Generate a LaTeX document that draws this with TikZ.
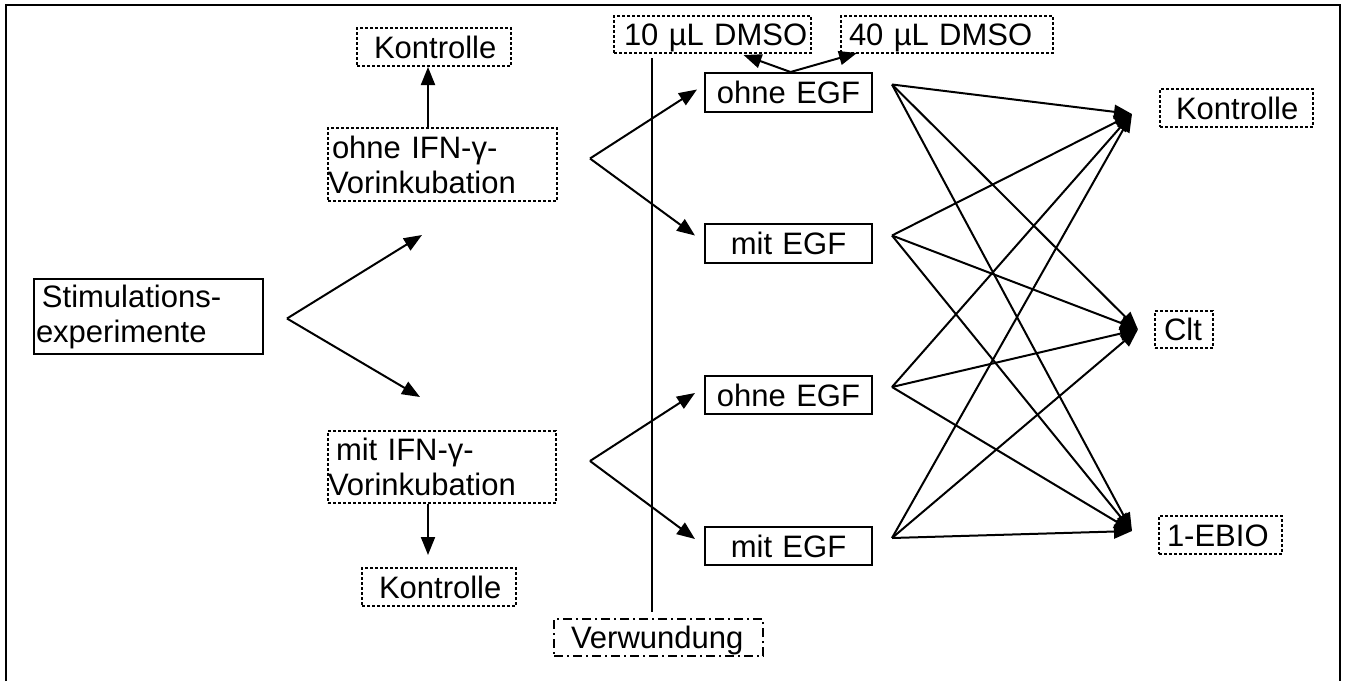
\documentclass[tikz,border=0pt]{standalone}
\usepackage{fontspec}
\setmainfont{Liberation Sans}
\usetikzlibrary{arrows.meta}
\begin{document}
\begin{tikzpicture}[x=1pt,y=-1pt,
  base/.style={inner sep=0pt, anchor=north west, font=\fontsize{31}{35}\selectfont, line width=2pt},
  solidbox/.style={base, draw},
  dotbox/.style={base, draw, dash pattern=on 3pt off 2pt},
  dashdotbox/.style={base, draw, dash pattern=on 9pt off 4pt on 2pt off 4pt},
  one/.style={text height=22pt, text depth=0pt},
  arr/.style={line width=2pt, -{Triangle[length=18pt,width=14pt]}},
  ln/.style={line width=2pt},
]
\useasboundingbox (0,0) rectangle (1345,681);
\draw[line width=2.8pt] (6,681) -- (6,5) -- (1340,5) -- (1340,681);

% nodes
\node[solidbox, text width=229pt, minimum height=75pt, align=left] (stim) at (33,278) {\hspace*{8pt}Stimulations-\\\hspace*{2pt}experimente};
\node[dotbox, one, text width=154pt, minimum height=38pt, align=left] (k1) at (356,27) {\hspace*{17pt}Kontrolle};
\node[dotbox, text width=229pt, minimum height=73pt, align=left] (oIFN) at (327,127) {\hspace*{4pt}ohne IFN-γ-\\Vorinkubation};
\node[dotbox, text width=228pt, minimum height=72pt, align=left] (mIFN) at (327,430) {\hspace*{8pt}mit IFN-γ-\\Vorinkubation};
\node[dotbox, one, text width=154pt, minimum height=38pt, align=left] (k2) at (361,567) {\hspace*{17pt}Kontrolle};

\node[solidbox, one, text width=167pt, minimum height=39pt, align=center] (oEGF1) at (704,72) {ohne EGF};
\node[solidbox, one, text width=167pt, minimum height=39pt, align=center] (mEGF1) at (704,223) {mit EGF};
\node[solidbox, one, text width=167pt, minimum height=38pt, align=center] (oEGF2) at (704,375) {ohne EGF};
\node[solidbox, one, text width=167pt, minimum height=38pt, align=center] (mEGF2) at (704,526) {mit EGF};

\node[dotbox, one, text width=197pt, minimum height=37pt, align=left] (d10) at (613,15) {\hspace*{10pt}10 µL DMSO};
\node[dotbox, one, text width=212pt, minimum height=37pt, align=left] (d40) at (840,15) {\hspace*{8pt}40 µL DMSO};

\node[dotbox, one, text width=153pt, minimum height=38pt, align=left] (k3) at (1159,88) {\hspace*{16pt}Kontrolle};
\node[dotbox, one, text width=58pt, minimum height=37pt, align=left] (clt) at (1154,310) {\hspace*{9pt}Clt};
\node[dotbox, one, text width=123pt, minimum height=38pt, align=left] (ebio) at (1158,515) {\hspace*{8pt}1-EBIO};
\node[dashdotbox, one, text width=209pt, minimum height=37pt, align=left] (verw) at (553,618) {\hspace*{17pt}Verwundung};

% coordinates
\coordinate (f0) at ([shift={(23,2)}]stim.east);
\coordinate (a1) at (422,235);
\coordinate (a2) at (420,397);
\coordinate (f1) at ([shift={(32,-6)}]oIFN.east);
\coordinate (f2) at ([shift={(33,-6)}]mIFN.east);
\coordinate (xk) at (428,0);
\coordinate (k2tip) at ([shift={(0,-12)}]k2.north);
\coordinate (vtop) at (652,58);
\coordinate (vbot) at (652,612);
\coordinate (s1) at ([shift={(19,-8)}]oEGF1.east);
\coordinate (s2) at ([shift={(19,-8)}]mEGF1.east);
\coordinate (s3) at ([shift={(19,-8)}]oEGF2.east);
\coordinate (s4) at ([shift={(19,-8)}]mEGF2.east);
\coordinate (t1) at ([shift={(-27,6)}]k3.west);
\coordinate (t2) at ([shift={(-16,0)}]clt.west);
\coordinate (t3) at ([shift={(-26,-4)}]ebio.west);

% connectors
\draw[arr] (f0) -- (a1);
\draw[arr] (f0) -- (a2);
\draw[arr] (oIFN.north -| xk) -- (k1.south -| xk);
\draw[arr] (mIFN.south -| xk) -- (k2tip -| xk);
\draw[arr] (f1) -- ([shift={(-7,-3)}]oEGF1.west);
\draw[arr] (f1) -- ([shift={(-9,-8)}]mEGF1.west);
\draw[arr] (f2) -- ([shift={(-9,-2)}]oEGF2.west);
\draw[arr] (f2) -- ([shift={(-9,-7)}]mEGF2.west);
\draw[arr] ([shift={(2,0)}]oEGF1.north) -- ([shift={(31,1)}]d10.south);
\draw[arr] ([shift={(2,0)}]oEGF1.north) -- ([shift={(17,-1)}]d40.south west);
\draw[ln] (vtop) -- (vbot);
\foreach \s in {s1,s2,s3,s4}
  \foreach \t in {t1,t2,t3}
    \draw[arr] (\s) -- (\t);
\end{tikzpicture}
\end{document}
